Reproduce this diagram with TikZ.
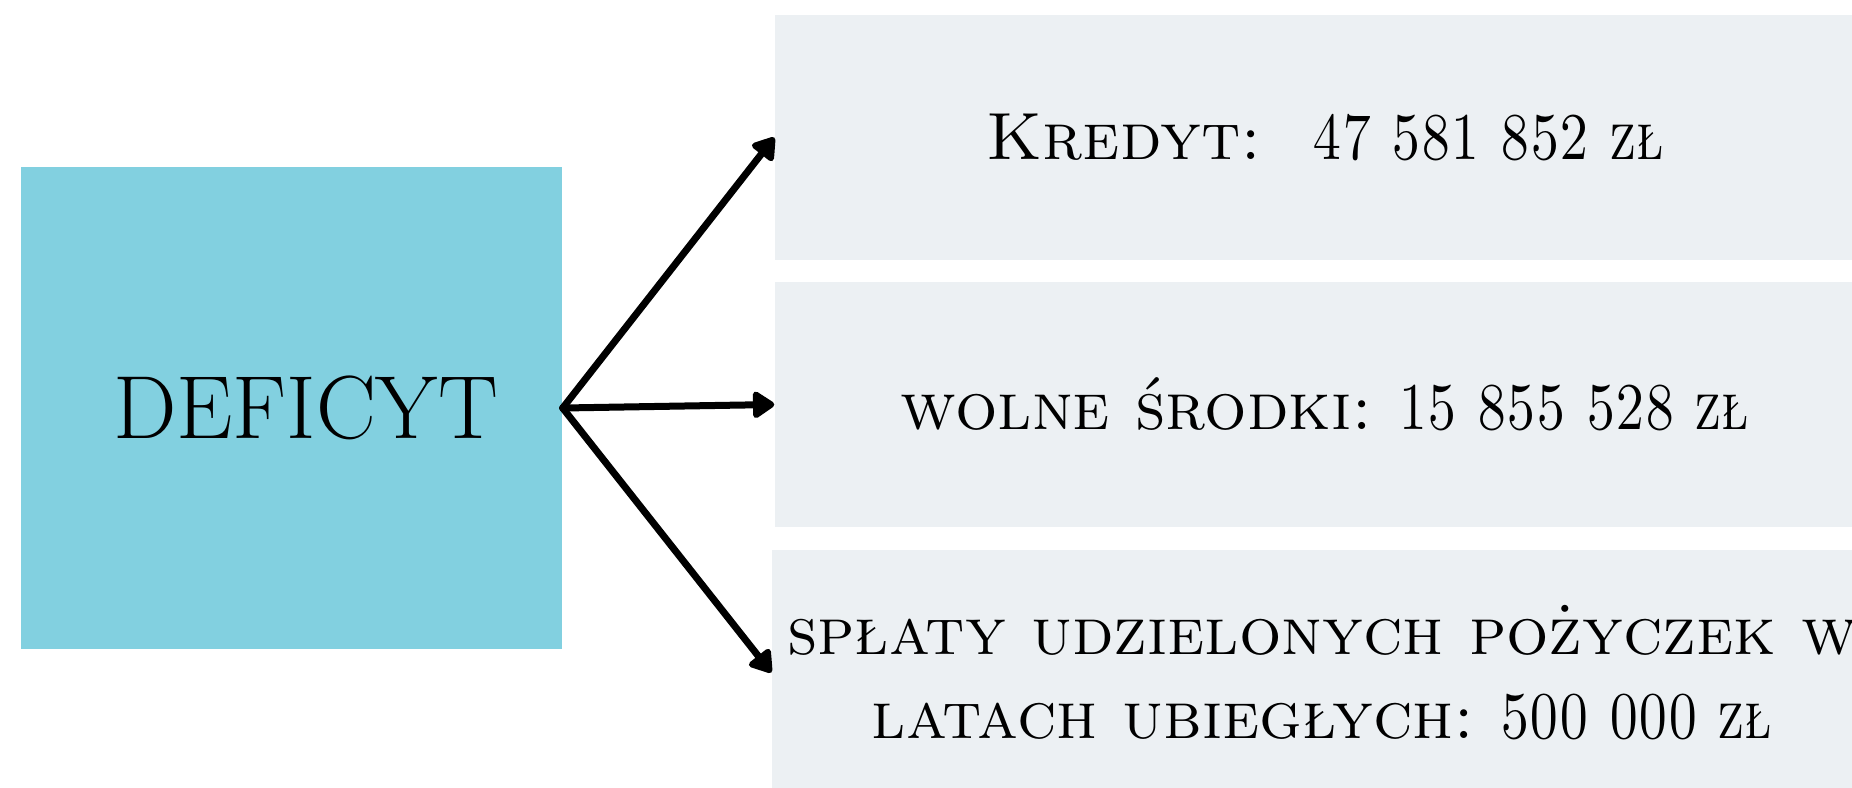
\documentclass[tikz,border=0pt]{standalone}
\usepackage{fontspec}
\usepackage{graphicx}
\usepackage{tikz}
\usetikzlibrary{arrows.meta}
\frenchspacing
\definecolor{deficytblue}{RGB}{130,208,224}
\definecolor{pozycjagrey}{RGB}{236,240,243}
\newcommand{\kwota}[1]{\scalebox{0.8}[1]{#1}}
\tikzset{%
    glowny/.style={%
        fill=deficytblue, inner sep=0pt,
        minimum width=5.41cm, minimum height=4.82cm,
        font=\fontsize{25.5}{30}\selectfont
    },
    pozycja/.style={%
        fill=pozycjagrey, inner sep=0pt, align=center,
        minimum width=11cm, minimum height=2.45cm,
        font=\fontsize{19}{23.8}\selectfont\scshape
    },
    strzalka/.style={%
        line width=0.07cm, line cap=round, line join=round,
        -{Triangle[length=0.24cm,width=0.3cm,round]}
    }
}

\begin{document}
\begin{tikzpicture}
    \useasboundingbox (0,0) rectangle (18.52,-7.87);
    \clip (0,0) rectangle (18.52,-7.87);
    \node[glowny] (deficyt) at (2.915,-4.08) {\hspace*{0.28cm}DEFICYT};
    \node[pozycja] (kredyt) at (13.25,-1.375) {Kredyt:\ \ \kwota{47 581 852 zł}};
    \node[pozycja] (srodki) at (13.25,-4.045) {wolne środki: \kwota{15 855 528 zł}};
    \node[pozycja] (splaty) at (13.22,-6.725)
        {spłaty udzielonych pożyczek w\\latach ubiegłych: \kwota{500 000 zł}};
    \foreach \cel in {kredyt,srodki,splaty}
    {
    \draw[strzalka] (deficyt.east) -- (\cel.west);
    }
\end{tikzpicture}
\end{document}
